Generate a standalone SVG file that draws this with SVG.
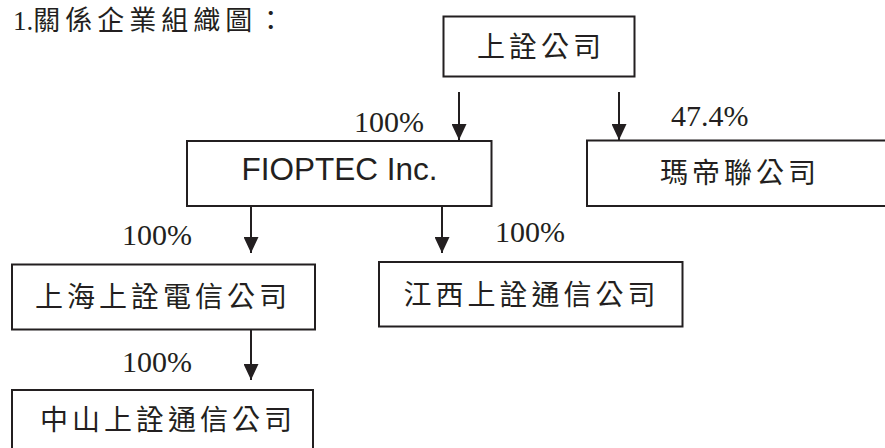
<svg xmlns="http://www.w3.org/2000/svg" width="885" height="448" viewBox="0 0 885 448">
<defs>
<style>
.box{fill:#fff;stroke:#231f20;stroke-width:2}
.cjk{font-family:"Noto Sans CJK TC","Noto Sans CJK SC",sans-serif;font-size:28px;letter-spacing:4px;fill:#231f20}
.pct{font-family:"Liberation Serif","Noto Sans CJK TC",serif;font-size:30px;fill:#231f20}
.lat{font-family:"Liberation Sans",Arial,sans-serif;font-size:31.5px;fill:#231f20}
.conn line{stroke:#231f20;stroke-width:2;fill:none}
</style>
<marker id="ah" markerWidth="16" markerHeight="15" refX="16" refY="7.5" orient="auto" markerUnits="userSpaceOnUse">
<path d="M0,0 L16,7.5 L0,15 z" fill="#231f20"/>
</marker>
</defs>
<rect width="885" height="448" fill="#fff"/>
<g id="title">
<text x="13" y="29.5" fill="#231f20"><tspan font-family="Liberation Serif,serif" font-size="27">1.</tspan><tspan font-family="Noto Sans CJK TC,Noto Sans CJK SC,sans-serif" font-size="27" letter-spacing="5">關係企業組織圖：</tspan></text>
</g>
<g id="n-shangquan">
<rect class="box" x="443.5" y="16.5" width="191" height="60"/>
<text class="cjk" x="477" y="57">上詮公司</text>
</g>
<g id="n-fioptec">
<rect class="box" x="187" y="141" width="304.5" height="65"/>
<text class="lat" x="339.5" y="180" text-anchor="middle">FIOPTEC Inc.</text>
</g>
<g id="n-madilian">
<rect class="box" x="587" y="140.5" width="310" height="65.5"/>
<text class="cjk" x="660" y="183">瑪帝聯公司</text>
</g>
<g id="n-shanghai">
<rect class="box" x="12" y="264.5" width="303" height="65"/>
<text class="cjk" x="35" y="307">上海上詮電信公司</text>
</g>
<g id="n-jiangxi">
<rect class="box" x="379" y="262" width="303.5" height="64.5"/>
<text class="cjk" x="403.5" y="305">江西上詮通信公司</text>
</g>
<g id="n-zhongshan">
<rect class="box" x="12" y="390" width="301" height="70"/>
<text class="cjk" x="40" y="430">中山上詮通信公司</text>
</g>
<g id="labels">
<text class="pct" x="354" y="132">100%</text>
<text class="pct" x="671" y="126">47.4%</text>
<text class="pct" x="122" y="245">100%</text>
<text class="pct" x="495" y="242">100%</text>
<text class="pct" x="122" y="372">100%</text>
</g>
<g id="connectors" class="conn">
<line x1="459" y1="92" x2="459" y2="140" marker-end="url(#ah)"/>
<line x1="619" y1="92" x2="619" y2="140" marker-end="url(#ah)"/>
<line x1="251" y1="206" x2="251" y2="253" marker-end="url(#ah)"/>
<line x1="442" y1="206" x2="442" y2="253" marker-end="url(#ah)"/>
<line x1="251" y1="330" x2="251" y2="380" marker-end="url(#ah)"/>
</g>
</svg>
